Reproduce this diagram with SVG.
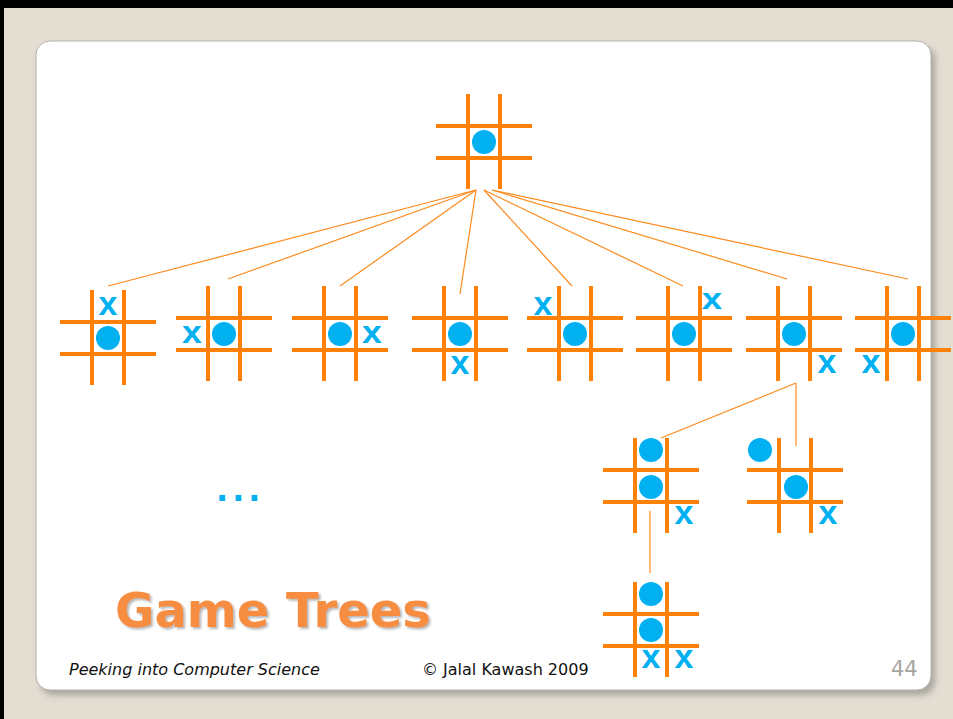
<svg xmlns="http://www.w3.org/2000/svg" xmlns:xlink="http://www.w3.org/1999/xlink" width="953" height="719" viewBox="0 0 953 719">
<style>
.grid line{stroke:#fd8008;stroke-width:4;}
.o{fill:#00b0f0;}
.x{fill:#00b0f0;font-family:"Liberation Sans",Arial,sans-serif;font-weight:bold;font-size:34px;text-anchor:middle;}
.conn line{stroke:#fd8a1e;stroke-width:1.2;}
.foot{font-family:"DejaVu Sans",Verdana,sans-serif;font-size:16px;fill:#111;}
</style>
<defs>
<g id="grid" class="grid">
<line x1="-16" y1="-48" x2="-16" y2="47"/>
<line x1="16" y1="-48" x2="16" y2="47"/>
<line x1="-48" y1="-16" x2="48" y2="-16"/>
<line x1="-48" y1="16" x2="48" y2="16"/>
</g>
<filter id="sh" x="-5%" y="-5%" width="110%" height="110%">
<feGaussianBlur stdDeviation="3"/>
</filter>
<filter id="tsh" x="-5%" y="-20%" width="110%" height="140%">
<feDropShadow dx="2" dy="2" stdDeviation="1.2" flood-color="#8a8a8a" flood-opacity="0.6"/>
</filter>
</defs>
<rect x="0" y="0" width="953" height="719" fill="#000"/>
<rect x="4" y="8" width="949" height="711" fill="#e3ddd2"/>
<rect x="40" y="46" width="895" height="649" rx="14" fill="#a9a59c" filter="url(#sh)"/>
<rect x="36" y="41" width="895" height="649" rx="14" fill="#fff" stroke="#b4b2ac" stroke-width="1"/>

<g id="connectors" class="conn">
<line x1="476" y1="190" x2="108" y2="286"/>
<line x1="476" y1="190" x2="228" y2="279"/>
<line x1="476" y1="190" x2="340" y2="286"/>
<line x1="476" y1="190" x2="460" y2="294"/>
<line x1="484" y1="190" x2="572" y2="286"/>
<line x1="484" y1="190" x2="683" y2="286"/>
<line x1="492" y1="190" x2="787" y2="279"/>
<line x1="492" y1="190" x2="908" y2="279"/>
<line x1="796" y1="383" x2="661" y2="438"/>
<line x1="796" y1="383" x2="796" y2="446"/>
<line x1="650" y1="511" x2="650" y2="573"/>
</g>

<g id="root">
<use xlink:href="#grid" x="484" y="142"/>
<circle class="o" cx="484" cy="142" r="12"/>
</g>

<g id="b1">
<use xlink:href="#grid" x="108" y="338"/>
<circle class="o" cx="108" cy="338" r="12"/>
<text class="x" x="108" y="315">x</text>
</g>
<g id="b2">
<use xlink:href="#grid" x="224" y="334"/>
<circle class="o" cx="224" cy="334" r="12"/>
<text class="x" transform="translate(192,335) scale(1.05,0.9)" x="0" y="8.8">x</text>
</g>
<g id="b3">
<use xlink:href="#grid" x="340" y="334"/>
<circle class="o" cx="340" cy="334" r="12"/>
<text class="x" transform="translate(372,335) scale(1.05,0.9)" x="0" y="8.8">x</text>
</g>
<g id="b4">
<use xlink:href="#grid" x="460" y="334"/>
<circle class="o" cx="460" cy="334" r="12"/>
<text class="x" x="460" y="374">x</text>
</g>
<g id="b5">
<use xlink:href="#grid" x="575" y="334"/>
<circle class="o" cx="575" cy="334" r="12"/>
<text class="x" x="543" y="315">x</text>
</g>
<g id="b6">
<use xlink:href="#grid" x="684" y="334"/>
<circle class="o" cx="684" cy="334" r="12"/>
<text class="x" transform="translate(712,302) scale(1.08,0.85)" x="0" y="8.8">x</text>
</g>
<g id="b7">
<use xlink:href="#grid" x="794" y="334"/>
<circle class="o" cx="794" cy="334" r="12"/>
<text class="x" x="827" y="373">x</text>
</g>
<g id="b8">
<use xlink:href="#grid" x="903" y="334"/>
<circle class="o" cx="903" cy="334" r="12"/>
<text class="x" x="871" y="373">x</text>
</g>

<g id="bA">
<use xlink:href="#grid" x="651" y="486"/>
<circle class="o" cx="651" cy="450" r="12"/>
<circle class="o" cx="651" cy="487" r="12"/>
<text class="x" x="684" y="524">x</text>
</g>
<g id="bB">
<use xlink:href="#grid" x="795" y="486"/>
<circle class="o" cx="760" cy="450" r="12"/>
<circle class="o" cx="796" cy="487" r="12"/>
<text class="x" x="828" y="524">x</text>
</g>
<g id="bC">
<use xlink:href="#grid" x="651" y="630"/>
<circle class="o" cx="651" cy="594" r="12"/>
<circle class="o" cx="651" cy="630" r="12"/>
<text class="x" x="651" y="668">x</text>
<text class="x" x="684" y="668">x</text>
</g>

<text x="216" y="501" font-family="DejaVu Sans,Verdana,sans-serif" font-weight="bold" font-size="32" letter-spacing="4" fill="#00b0f0">...</text>

<text x="115" y="627" font-family="DejaVu Sans,Verdana,sans-serif" font-weight="bold" font-size="48" fill="#f78d3f" filter="url(#tsh)">Game Trees</text>

<text class="foot" x="69" y="675" font-style="italic">Peeking into Computer Science</text>
<text class="foot" x="422" y="675">© Jalal Kawash 2009</text>
<text x="891" y="676" font-family="DejaVu Sans,Verdana,sans-serif" font-size="21" fill="#a6a6a0">44</text>
</svg>
